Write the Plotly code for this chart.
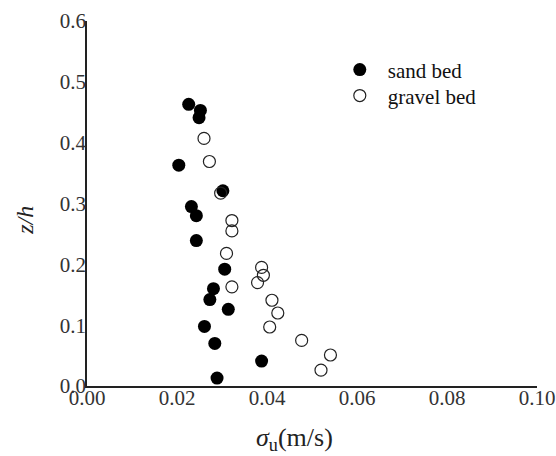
import plotly.graph_objects as go

# Data
sand_sigma = [0.0226, 0.0252, 0.0249, 0.0204, 0.0302, 0.0232, 0.0243, 0.0243,
              0.0306, 0.0281, 0.0273, 0.0314, 0.0261, 0.0284, 0.0388, 0.0289]
sand_zh = [0.463, 0.453, 0.441, 0.363, 0.321, 0.295, 0.280, 0.239,
           0.192, 0.160, 0.142, 0.126, 0.098, 0.070, 0.041, 0.013]

gravel_sigma = [0.0260, 0.0272, 0.0297, 0.0322, 0.0322, 0.0310, 0.0388, 0.0392,
                0.0379, 0.0322, 0.0411, 0.0424, 0.0406, 0.0477, 0.0541, 0.0520]
gravel_zh = [0.407, 0.369, 0.317, 0.272, 0.255, 0.218, 0.195, 0.182,
             0.170, 0.163, 0.141, 0.120, 0.097, 0.075, 0.051, 0.026]

x_ticks = [0.00, 0.02, 0.04, 0.06, 0.08, 0.10]
x_tick_labels = ["0.00", "0.02", "0.04", "0.06", "0.08", "0.10"]
y_ticks = [0.0, 0.1, 0.2, 0.3, 0.4, 0.5, 0.6]
y_tick_labels = ["0.0", "0.1", "0.2", "0.3", "0.4", "0.5", "0.6"]

FONT = "'Liberation Serif', 'Times New Roman', Times, serif"

fig = go.Figure()
fig.add_trace(go.Scatter(
    x=sand_sigma, y=sand_zh, mode="markers", name="sand bed", legend="legend",
    marker=dict(symbol="circle", size=13, color="black", line=dict(width=0)),
))
fig.add_trace(go.Scatter(
    x=gravel_sigma, y=gravel_zh, mode="markers", name="gravel bed", legend="legend2",
    marker=dict(symbol="circle-open", size=12, color="#222",
                line=dict(width=1.2, color="#222")),
))

legend_style = dict(xanchor="left", yanchor="top", bgcolor="rgba(0,0,0,0)",
                    font=dict(family=FONT, size=21, color="#111"), itemwidth=46)

fig.update_layout(
    width=556, height=456,
    margin=dict(l=87, r=19, t=21, b=70),
    paper_bgcolor="white", plot_bgcolor="white",
    font=dict(family=FONT, size=20, color="#222"),
    showlegend=True,
    legend=dict(x=0.544, y=0.922, **legend_style),
    legend2=dict(x=0.544, y=0.851, **legend_style),
    xaxis=dict(range=[0, 0.1], tickvals=x_ticks, ticktext=x_tick_labels,
               showgrid=False, zeroline=False, showline=True, linecolor="#222",
               linewidth=1.5, ticks="", automargin=False, ticklabelstandoff=-8,
               tickfont=dict(family=FONT, size=21, color="#333")),
    yaxis=dict(range=[0, 0.6], tickvals=y_ticks, ticktext=y_tick_labels,
               showgrid=False, zeroline=False, showline=True, linecolor="#222",
               linewidth=1.5, ticks="", ticklabelstandoff=-5, automargin=False,
               tickfont=dict(family=FONT, size=21, color="#333")),
    annotations=[
        dict(text="<i>σ</i><sub>u</sub>(m/s)", xref="paper", yref="paper",
             x=0.46, y=-0.145, xanchor="center", yanchor="middle", showarrow=False,
             font=dict(family=FONT, size=26, color="#222")),
        dict(text="<i>z/h</i>", xref="paper", yref="paper", textangle=-90,
             x=-0.138, y=0.455, xanchor="center", yanchor="middle", showarrow=False,
             font=dict(family=FONT, size=24, color="#222")),
    ],
)

fig.write_html("out.html")
